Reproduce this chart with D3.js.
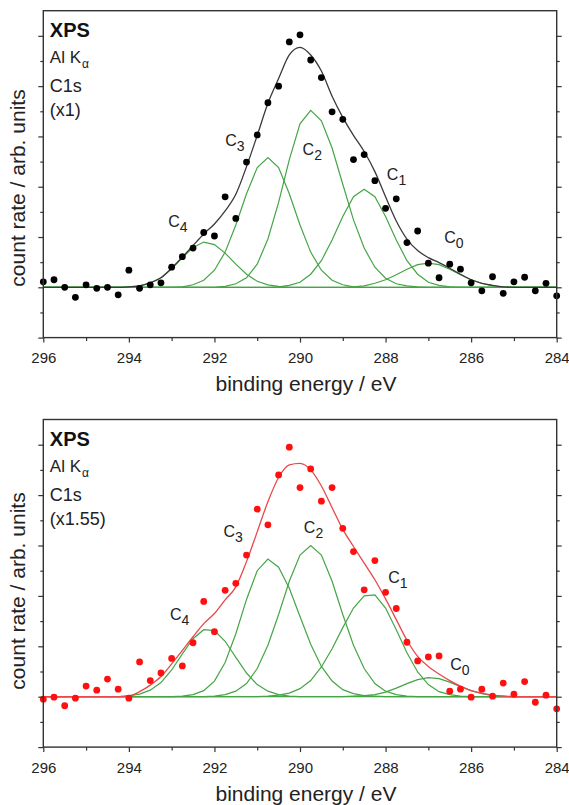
<!DOCTYPE html>
<html>
<head>
<meta charset="utf-8">
<script src="https://cdn.jsdelivr.net/npm/d3@7"></script>
<style>
  html, body { margin: 0; padding: 0; background: #fff; }
  svg { display: block; }
</style>
</head>
<body>
<div id="chart"></div>
<script>
// binding energy grid (eV), shared by both spectra
const energy = [
  296, 295.75, 295.5, 295.25, 295, 294.75, 294.5, 294.25, 294, 293.75, 293.5, 293.25,
  293, 292.75, 292.5, 292.25, 292, 291.75, 291.5, 291.25, 291, 290.75, 290.5, 290.25,
  290, 289.75, 289.5, 289.25, 289, 288.75, 288.5, 288.25, 288, 287.75, 287.5, 287.25,
  287, 286.75, 286.5, 286.25, 286, 285.75, 285.5, 285.25, 285, 284.75, 284.5, 284.25, 284
];

// --- upper spectrum (x1) ---
const topCounts = [
  0.11, 0.15, 0, -0.2, 0.05, -0.02, 0, -0.15, 0.34, -0.02, 0.05, 0.09,
  0.40, 0.61, 0.78, 1.09, 1.02, 1.80, 1.37, 2.49, 3.03, 3.67, 4.00, 4.88,
  5.02, 4.52, 4.17, 3.49, 3.34, 2.54, 2.64, 2.12, 1.57, 1.76, 0.89, 1.12,
  0.48, 0.19, 0.46, 0.36, 0.09, -0.07, 0.21, -0.12, 0.11, 0.20, -0.07, 0.08, -0.17
];
const topFit = [
  0, 0, 0, 0, 0, 0, 0, 0, 0.01, 0.03, 0.09, 0.19,
  0.38, 0.60, 0.83, 1.06, 1.26, 1.52, 1.85, 2.40, 3.02, 3.66, 4.15, 4.62,
  4.77, 4.62, 4.30, 3.80, 3.38, 3.02, 2.70, 2.30, 1.80, 1.32, 0.96, 0.73,
  0.59, 0.49, 0.38, 0.26, 0.15, 0.08, 0.04, 0.01, 0, 0, 0, 0, 0
];
const topC4 = [
  0, 0, 0, 0, 0, 0, 0, 0, 0.01, 0.03, 0.09, 0.19,
  0.37, 0.59, 0.79, 0.90, 0.85, 0.68, 0.46, 0.26, 0.12, 0.05, 0.02, 0,
  0, 0, 0, 0, 0, 0, 0, 0, 0, 0, 0, 0,
  0, 0, 0, 0, 0, 0, 0, 0, 0, 0, 0, 0, 0
];
const topC3 = [
  0, 0, 0, 0, 0, 0, 0, 0, 0, 0, 0, 0,
  0, 0.01, 0.05, 0.14, 0.34, 0.70, 1.24, 1.86, 2.38, 2.58, 2.38, 1.86,
  1.24, 0.70, 0.34, 0.14, 0.05, 0.01, 0, 0, 0, 0, 0, 0,
  0, 0, 0, 0, 0, 0, 0, 0, 0, 0, 0, 0, 0
];
const topC2 = [
  0, 0, 0, 0, 0, 0, 0, 0, 0, 0, 0, 0,
  0, 0, 0, 0, 0, 0.02, 0.07, 0.19, 0.46, 0.96, 1.69, 2.54,
  3.25, 3.52, 3.31, 2.77, 2.05, 1.34, 0.78, 0.40, 0.18, 0.07, 0.03, 0.01,
  0, 0, 0, 0, 0, 0, 0, 0, 0, 0, 0, 0, 0
];
const topC1 = [
  0, 0, 0, 0, 0, 0, 0, 0, 0, 0, 0, 0,
  0, 0, 0, 0, 0, 0, 0, 0, 0, 0, 0.01, 0.04,
  0.10, 0.26, 0.53, 0.94, 1.41, 1.80, 1.95, 1.80, 1.41, 0.94, 0.53, 0.26,
  0.10, 0.04, 0.01, 0, 0, 0, 0, 0, 0, 0, 0, 0, 0
];
const topC0 = [
  0, 0, 0, 0, 0, 0, 0, 0, 0, 0, 0, 0,
  0, 0, 0, 0, 0, 0, 0, 0, 0, 0, 0, 0,
  0, 0, 0, 0, 0, 0.01, 0.03, 0.08, 0.15, 0.25, 0.36, 0.45,
  0.48, 0.45, 0.36, 0.25, 0.15, 0.08, 0.03, 0.01, 0, 0, 0, 0, 0
];

// --- lower spectrum (x1.55) ---
const botCounts = [
  -0.05, -0.01, -0.18, -0.03, 0.21, 0.13, 0.35, 0.15, -0.03, 0.69, 0.32, 0.47,
  0.76, 0.61, 1.07, 1.89, 1.29, 2.11, 2.25, 2.81, 3.72, 3.41, 4.40, 4.95,
  4.15, 4.52, 3.88, 4.15, 3.34, 2.88, 2.12, 2.70, 2.07, 1.75, 1.08, 0.71,
  0.79, 0.81, 0.11, 0.15, -0.01, 0.15, 0.01, 0.27, 0.05, 0.30, -0.11, 0.03, -0.24
];
const botFit = [
  0, 0, 0, 0, 0, 0, 0, 0, 0.01, 0.10, 0.23, 0.40,
  0.65, 0.92, 1.19, 1.45, 1.65, 1.92, 2.18, 2.68, 3.27, 3.87, 4.35, 4.60,
  4.63, 4.50, 4.18, 3.75, 3.32, 2.98, 2.65, 2.32, 1.94, 1.53, 1.12, 0.80,
  0.60, 0.45, 0.32, 0.21, 0.12, 0.07, 0.03, 0.01, 0, 0, 0, 0, 0
];
const botC4 = [
  0, 0, 0, 0, 0, 0, 0, 0, 0.02, 0.05, 0.13, 0.28,
  0.53, 0.85, 1.15, 1.33, 1.31, 1.10, 0.78, 0.47, 0.24, 0.11, 0.04, 0.01,
  0, 0, 0, 0, 0, 0, 0, 0, 0, 0, 0, 0,
  0, 0, 0, 0, 0, 0, 0, 0, 0, 0, 0, 0, 0
];
const botC3 = [
  0, 0, 0, 0, 0, 0, 0, 0, 0, 0, 0, 0,
  0, 0.01, 0.04, 0.12, 0.31, 0.68, 1.25, 1.93, 2.50, 2.73, 2.57, 2.15,
  1.59, 1.04, 0.60, 0.31, 0.14, 0.06, 0.02, 0.01, 0, 0, 0, 0,
  0, 0, 0, 0, 0, 0, 0, 0, 0, 0, 0, 0, 0
];
const botC2 = [
  0, 0, 0, 0, 0, 0, 0, 0, 0, 0, 0, 0,
  0, 0, 0, 0, 0.01, 0.04, 0.11, 0.26, 0.56, 1.02, 1.63, 2.29,
  2.81, 3.00, 2.81, 2.29, 1.63, 1.02, 0.56, 0.26, 0.11, 0.04, 0.01, 0,
  0, 0, 0, 0, 0, 0, 0, 0, 0, 0, 0, 0, 0
];
const botC1 = [
  0, 0, 0, 0, 0, 0, 0, 0, 0, 0, 0, 0,
  0, 0, 0, 0, 0, 0, 0, 0, 0, 0.01, 0.03, 0.07,
  0.16, 0.32, 0.59, 0.95, 1.37, 1.76, 2.00, 2.02, 1.76, 1.33, 0.87, 0.49,
  0.24, 0.10, 0.04, 0.01, 0, 0, 0, 0, 0, 0, 0, 0, 0
];
const botC0 = [
  0, 0, 0, 0, 0, 0, 0, 0, 0, 0, 0, 0,
  0, 0, 0, 0, 0, 0, 0, 0, 0, 0, 0, 0,
  0, 0, 0, 0, 0, 0.01, 0.02, 0.04, 0.09, 0.17, 0.26, 0.34,
  0.38, 0.36, 0.29, 0.20, 0.12, 0.06, 0.02, 0.01, 0, 0, 0, 0, 0
];

const compNames = ['4', '3', '2', '1', '0'];
const xMajor = [296, 294, 292, 290, 288, 286, 284];
const xMinor = [295, 293, 291, 289, 287, 285];
const yMajor = [-1, 0, 1, 2, 3, 4, 5];
const yMinor = [-0.5, 0.5, 1.5, 2.5, 3.5, 4.5];

const W = 569, H = 805;
const FONT = '"Liberation Sans", Arial, Helvetica, sans-serif';
const GREEN = '#45a545';

const svg = d3.select('#chart').append('svg')
  .attr('width', W)
  .attr('height', H)
  .style('font-family', FONT);

const x = d3.scaleLinear().domain([296, 284]).range([43.3, 556.7]);

const panels = [
  {
    counts: topCounts, fit: topFit, comps: [topC4, topC3, topC2, topC1, topC0],
    // label anchor points in data coordinates [eV, level]
    labelAt: [[293.08, 1.19], [291.75, 2.80], [289.94, 2.63], [287.97, 2.13], [286.63, 0.88]],
    factor: '(x1)', top: 10.7, bottom: 337.6,
    dot: '#000', line: '#3a3a3a', titleY: 391, yTitleY: 188
  },
  {
    counts: botCounts, fit: botFit, comps: [botC4, botC3, botC2, botC1, botC0],
    labelAt: [[293.04, 1.52], [291.79, 3.17], [289.91, 3.24], [287.94, 2.26], [286.49, 0.53]],
    factor: '(x1.55)', top: 419.5, bottom: 747.1,
    dot: '#ff1010', line: '#e8484a', titleY: 801, yTitleY: 591
  }
];

panels.forEach(p => drawPanel(p));

function drawPanel(p) {
  const y = d3.scaleLinear().domain([-1, 5.5]).range([p.bottom, p.top]);
  const g = svg.append('g');

  const line = d3.line()
    .x((d, i) => x(energy[i]))
    .y(d => y(d));

  // fitted components
  g.append('g').selectAll('path')
    .data(p.comps)
    .enter().append('path')
    .attr('d', line)
    .attr('fill', 'none')
    .attr('stroke', GREEN)
    .attr('stroke-width', 1.2);

  // envelope
  g.append('path')
    .datum(p.fit)
    .attr('d', d3.line().curve(d3.curveMonotoneX).x((d, i) => x(energy[i])).y(d => y(d)))
    .attr('fill', 'none')
    .attr('stroke', p.line)
    .attr('stroke-width', 1.3);

  // measured points
  g.append('g').selectAll('circle')
    .data(p.counts)
    .enter().append('circle')
    .attr('cx', (d, i) => x(energy[i]))
    .attr('cy', d => y(d))
    .attr('r', 3.4)
    .attr('fill', p.dot);

  // axes
  const styleAxis = a => {
    a.select('.domain').remove();
    a.selectAll('line').attr('stroke', '#333').attr('stroke-width', 1.2);
    a.selectAll('text').attr('font-size', '15px').attr('fill', '#222').style('font-family', FONT);
  };

  g.append('g')
    .attr('transform', `translate(0,${p.bottom})`)
    .call(d3.axisBottom(x).tickValues(xMajor).tickSize(5).tickPadding(10).tickFormat(d3.format('d')))
    .call(styleAxis);
  g.append('g')
    .attr('transform', `translate(0,${p.bottom})`)
    .call(d3.axisBottom(x).tickValues(xMinor).tickSize(3.5).tickFormat(''))
    .call(styleAxis);

  [[d3.axisLeft, x.range()[0]], [d3.axisRight, x.range()[1]]].forEach(([ax, pos]) => {
    g.append('g')
      .attr('transform', `translate(${pos},0)`)
      .call(ax(y).tickValues(yMajor).tickSize(5).tickFormat(''))
      .call(styleAxis);
    g.append('g')
      .attr('transform', `translate(${pos},0)`)
      .call(ax(y).tickValues(yMinor).tickSize(3).tickFormat(''))
      .call(styleAxis);
  });

  // frame
  g.append('rect')
    .attr('x', x.range()[0])
    .attr('y', p.top)
    .attr('width', x.range()[1] - x.range()[0])
    .attr('height', p.bottom - p.top)
    .attr('fill', 'none')
    .attr('stroke', '#333')
    .attr('stroke-width', 1.4);

  // component labels
  const lab = g.append('g').selectAll('text')
    .data(p.labelAt)
    .enter().append('text')
    .attr('x', d => x(d[0]))
    .attr('y', d => y(d[1]))
    .attr('fill', '#222')
    .attr('font-size', '16px');
  lab.append('tspan').text('C');
  lab.append('tspan')
    .attr('font-size', '14px')
    .attr('dy', 5)
    .text((d, i) => compNames[i]);

  // annotation block
  const tx = x.range()[0] + 6.5;
  const t0 = p.top + 26;
  g.append('text')
    .attr('x', tx).attr('y', t0)
    .attr('font-size', '20px').attr('font-weight', 'bold').attr('fill', '#111')
    .text('XPS');
  const al = g.append('text')
    .attr('x', tx).attr('y', t0 + 26.5)
    .attr('font-size', '17px').attr('fill', '#222');
  al.append('tspan').text('Al K');
  al.append('tspan').attr('font-size', '12px').attr('dy', 5).attr('dx', 1).text('α');
  g.append('text')
    .attr('x', tx).attr('y', t0 + 55)
    .attr('font-size', '18px').attr('fill', '#222')
    .text('C1s');
  g.append('text')
    .attr('x', tx).attr('y', t0 + 79.5)
    .attr('font-size', '18px').attr('fill', '#222')
    .text(p.factor);

  // axis titles
  g.append('text')
    .attr('x', 306).attr('y', p.titleY)
    .attr('text-anchor', 'middle')
    .attr('font-size', '21px').attr('fill', '#222')
    .text('binding energy / eV');
  g.append('text')
    .attr('transform', `translate(25,${p.yTitleY}) rotate(-90)`)
    .attr('text-anchor', 'middle')
    .attr('font-size', '21px').attr('fill', '#222')
    .text('count rate / arb. units');
}
</script>
</body>
</html>
